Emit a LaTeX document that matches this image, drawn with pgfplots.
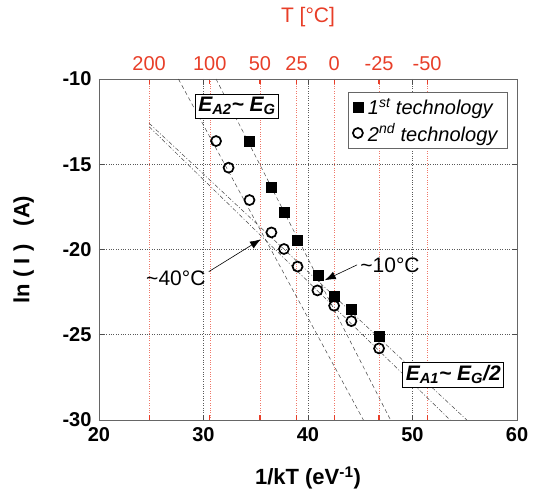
\documentclass[border=0pt]{standalone}
\usepackage{fontspec}
\setmainfont{Liberation Sans}
\usepackage{pgfplots}
\pgfplotsset{compat=1.18}
\usetikzlibrary{arrows.meta}
\definecolor{tred}{RGB}{232,62,40}
\definecolor{fitgray}{RGB}{70,70,70}

\begin{document}
\begin{tikzpicture}
% temperature scale on top, with the red guide lines
\begin{axis}[
    scale only axis, width=418pt, height=341pt,
    xmin=20, xmax=60, ymin=-30, ymax=-10,
    axis line style={draw=none},
    ytick=\empty,
    xtick={24.8,30.6,35.4,38.9,42.5,46.8,51.4},
    xticklabels={200,100,50,25,0,-25,-50},
    xticklabel pos=upper,
    xtick pos=both,
    xmajorgrids,
    grid style={tred!70, dotted, line width=0.35pt},
    major tick length=5pt,
    tick style={tred, line width=1.2pt},
    xticklabel style={text=tred, font=\fontsize{20}{22}\selectfont, yshift=5pt},
    xlabel={T [°C]},
    xlabel style={text=tred, font=\fontsize{21}{24}\selectfont,
        at={(axis description cs:0.5,1.182)}, anchor=center},
]
\end{axis}
% ln(I) versus 1/kT
\begin{axis}[
    scale only axis, width=418pt, height=341pt,
    xmin=20, xmax=60, ymin=-30, ymax=-10,
    axis line style={black!60, line width=0.8pt},
    xtick={20,30,40,50,60}, xticklabels={20,30,40,50,60},
    ytick={-30,-25,-20,-15,-10}, yticklabels={-30,-25,-20,-15,-10},
    grid=major,
    grid style={black!65, dotted, line width=0.5pt},
    major tick length=5pt,
    tick style={black!70, line width=0.6pt},
    ticklabel style={font=\bfseries\fontsize{20}{22}\selectfont},
    xticklabel style={yshift=-4pt},
    yticklabel style={xshift=-4pt},
    xlabel={1/kT (eV\textsuperscript{-1})},
    ylabel={ln ( I )\ \ \ (A)},
    label style={font=\bfseries\fontsize{22}{25}\selectfont},
    xlabel style={at={(axis description cs:0.5,-0.17)}, anchor=center},
    ylabel style={at={(axis description cs:-0.18,0.5)}, anchor=center},
    legend style={at={(0.978,0.962)}, anchor=north east, draw=black!60,
        line width=0.8pt, font=\itshape\fontsize{20}{23}\selectfont,
        inner xsep=5pt, inner ysep=4pt, row sep=3pt,
        nodes={inner xsep=5pt}},
    legend cell align=left,
]
% fitted lines
\addplot[fitgray, line width=0.5pt, dash pattern=on 4pt off 3pt, forget plot]
    coordinates {(31.2,-10) (47.9,-30)};
\addplot[fitgray, line width=0.5pt, dash pattern=on 4pt off 3pt, forget plot]
    coordinates {(27.6,-10) (45.3,-30)};
\addplot[fitgray, line width=0.5pt, dash pattern=on 4pt off 2pt on 1pt off 2pt, forget plot]
    coordinates {(24.8,-12.6) (55.2,-30)};
\addplot[fitgray, line width=0.5pt, dash pattern=on 4pt off 2pt on 1pt off 2pt, forget plot]
    coordinates {(24.8,-12.8) (53.6,-30)};
% measurements
\addplot[only marks, mark=square*, mark size=5pt, black] coordinates {
    (34.4,-13.64) (36.5,-16.33) (37.7,-17.8) (39.0,-19.44)
    (41.0,-21.5) (42.5,-22.73) (44.15,-23.5) (46.8,-25.1)
};
\addlegendentry{1\textsuperscript{st} technology}
\addplot[only marks, mark=o, mark size=5pt, black, line width=1.7pt] coordinates {
    (31.2,-13.64) (32.4,-15.2) (34.4,-17.1) (36.5,-19.0) (37.7,-19.97)
    (39.0,-21.0) (40.9,-22.4) (42.5,-23.3) (44.15,-24.2) (46.8,-25.8)
};
\addlegendentry{2\textsuperscript{nd} technology}
% annotations
\draw[-{Latex[length=11pt,width=8pt]}, line width=0.6pt]
    (axis cs:30.5,-21.3) -- (axis cs:35.5,-19.4);
\draw[-{Latex[length=11pt,width=8pt]}, line width=0.6pt]
    (axis cs:44.7,-20.9) -- (axis cs:41.6,-21.8);
\node[anchor=east, font=\fontsize{21}{24}\selectfont, inner sep=1pt]
    at (axis cs:30.3,-21.7) {\textasciitilde40°C};
\node[anchor=west, font=\fontsize{21}{24}\selectfont, inner sep=1pt]
    at (axis cs:44.9,-20.9) {\textasciitilde10°C};
\node[draw=black, line width=0.8pt, fill=white, inner sep=3pt,
    font=\bfseries\itshape\fontsize{21}{25}\selectfont]
    at (axis cs:33.2,-11.6) {E\textsubscript{A2}\textasciitilde\ E\textsubscript{G}};
\node[draw=black, line width=0.8pt, fill=white, inner sep=3pt,
    font=\bfseries\itshape\fontsize{21}{25}\selectfont]
    at (axis cs:53.9,-27.35) {E\textsubscript{A1}\textasciitilde\ E\textsubscript{G}/2};
\end{axis}
\path (-99pt,-80pt) rectangle (439pt,420pt);
\end{tikzpicture}
\end{document}
